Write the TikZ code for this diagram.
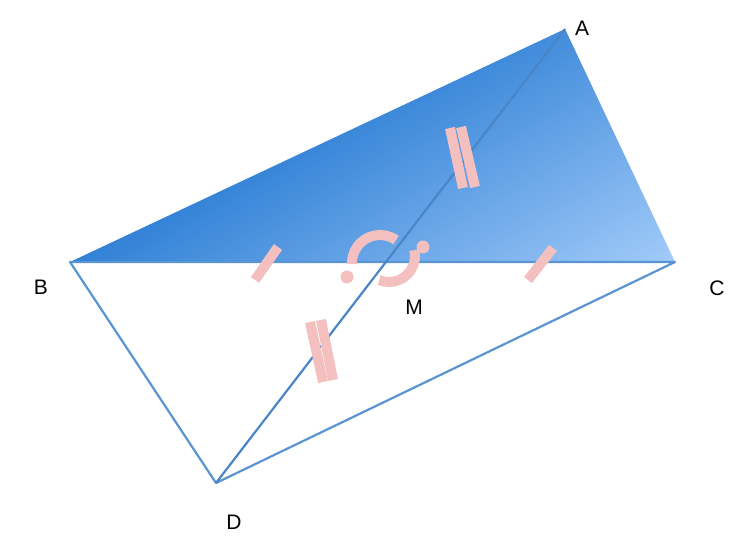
\documentclass[tikz,border=0pt]{standalone}
\usepackage{fontspec}
\setmainfont{Liberation Sans}
\usetikzlibrary{calc}

\definecolor{edgeblue}{HTML}{5A94D2}
\definecolor{diagblue}{HTML}{4A85C8}
\definecolor{darkfill}{HTML}{3181D6}
\definecolor{midfill}{HTML}{4B94E0}
\definecolor{lightfill}{HTML}{A2CBF9}
\definecolor{pinkmark}{HTML}{F3BFBF}

\begin{document}
\begin{tikzpicture}[x=1pt, y=1pt,
    edge/.style={draw=edgeblue, line width=2.2pt, line join=round},
    tickbar/.style={draw=pinkmark, line width=10pt},
    vlabel/.style={font=\fontsize{21}{24}\selectfont, inner sep=0pt}]

    \useasboundingbox (0,0) rectangle (745,543);

    \coordinate (A) at (565,514);
    \coordinate (B) at (70,281);
    \coordinate (C) at (675,281);
    \coordinate (D) at (216,60);

    % shaded half
    \begin{scope}
      \clip (A) -- (B) -- (C) -- cycle;
      \begin{scope}[transform canvas={shift={(70pt,281pt)}, rotate=-60}]
        \shade[left color=darkfill, middle color=midfill, right color=lightfill] (0,-700) rectangle (303,700);
      \end{scope}
    \end{scope}

    \draw[edge] (B) -- (C) -- (D) -- cycle;

    % vertical angles at M
    \draw[tickbar] ($(380,280)+(55:28)$) arc[start angle=55, end angle=182, radius=28];
    \draw[tickbar] ($(389,287)+(-112:26)$) arc[start angle=-112, end angle=13, radius=26];
    \fill[pinkmark] (423,296) circle[radius=6.5];
    \fill[pinkmark] (347,266) circle[radius=6.5];

    \draw[edge, draw=diagblue] (A) -- (D);

    % equal halves of BC
    \draw[tickbar] (255,263) -- (278,296);
    \draw[tickbar] (528,263) -- (553,295);

    % equal halves of AD
    \draw[tickbar] (450,415) -- (463,355);
    \draw[tickbar] (461,416) -- (475,356);
    \draw[tickbar] (310,221) -- (323,161);
    \draw[tickbar] (321,223) -- (333,163);

    \node[vlabel] (labA) at (582,515) {A};
    \node[vlabel] (labB) at (41,256)  {B};
    \node[vlabel] (labC) at (717,255) {C};
    \node[vlabel] (labD) at (234,21)  {D};
    \node[vlabel] (labM) at (414,236) {M};

\end{tikzpicture}
\end{document}
